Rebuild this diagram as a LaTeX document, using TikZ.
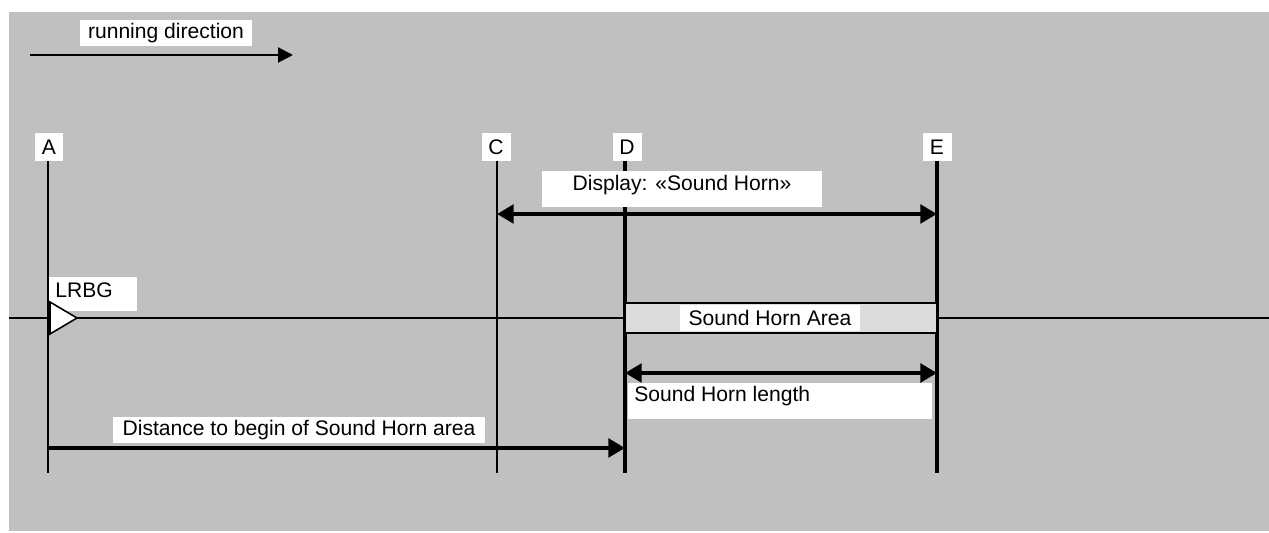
\documentclass[tikz,border=0pt]{standalone}
\usepackage{fontspec}
\setmainfont{Liberation Sans}
\usepackage{xcolor}
\usetikzlibrary{arrows.meta, positioning}
\definecolor{panel}{HTML}{C0C0C0}
\definecolor{zone}{HTML}{DCDCDC}
\tikzstyle{tag} = [rectangle, fill=white, inner sep=0pt, text centered, font=\fontsize{12}{14}\selectfont]
\tikzstyle{letter} = [tag, minimum width=0.58cm, minimum height=0.56cm]
\tikzstyle{rail} = [draw=black, line width=0.6pt]
\tikzstyle{post} = [line width=1.1pt]
\tikzstyle{bigpost} = [line width=2pt]
\tikzstyle{dim} = [line width=2.8pt, -{Triangle[length=9.5pt,width=10.5pt]}]
\tikzstyle{dimboth} = [line width=2.8pt, {Triangle[length=9.5pt,width=10.5pt]}-{Triangle[length=9.5pt,width=10.5pt]}]

\begin{document}
\begin{tikzpicture}[x=0.02cm, y=-0.02cm]

\useasboundingbox (0,0) rectangle (1269,533);
\fill[panel] (9,12) rectangle (1269,531);

% Running direction
\node (run-tag) [tag, minimum width=3.46cm, minimum height=0.52cm] at (166,33) {running direction};
\coordinate (run-start) at (30,55);
\coordinate (run-end) at (293,55);
\draw [line width=1.2pt, -{Triangle[length=8.5pt,width=8.5pt]}] (run-start) -- (run-end);

% Location letters
\node (A-tag) [letter] at (49,147) {A};
\node (C-tag) [letter] at (496,147) {C};
\node (D-tag) [letter] at (627,147) {D};
\node (E-tag) [letter] at (937,147) {E};

\coordinate (A-foot) at (48,473);
\coordinate (C-foot) at (497,473);
\coordinate (D-foot) at (625,473);
\coordinate (E-foot) at (937,473);

% Track
\coordinate (track-w) at (9,318);
\coordinate (track-e) at (1269,318);
\draw [rail] (track-w) -- (track-e);

% Vertical posts
\draw [post] (A-tag.south) ++(-1,0) -- (A-foot);
\draw [post] (C-tag.south) ++(1,0) -- (C-foot);
\draw [bigpost] (D-tag.south) ++(-2,0) -- (D-foot);
\draw [bigpost] (E-tag.south) -- (E-foot);

% Sound horn area
\node (horn-area) [rectangle, draw=black, line width=1pt, fill=zone, minimum width=6.24cm, minimum height=0.6cm] at (781,318) {};
\node (horn-tag) [tag, minimum width=3.62cm, minimum height=0.52cm] at (770,318) {Sound Horn Area};

% LRBG
\node (lrbg-box) [tag, minimum width=1.78cm, minimum height=0.68cm] at (93,294) {};
\node (lrbg-tag) [tag, fill=none, anchor=west] at (55,290) {LRBG};
\draw [fill=white, line width=0.9pt] (50,302) -- (77,318) -- (50,334) -- cycle;

% Display
\node (display-box) [tag, minimum width=5.62cm, minimum height=0.72cm] at (682,189) {};
\node (display-tag) [tag, fill=none] at (682,185) {Display: «Sound Horn»};
\coordinate (display-w) at (497,214);
\coordinate (display-e) at (937,214);
\draw [dimboth] (display-w) -- (display-e);

% Sound horn length
\coordinate (length-w) at (625,373);
\coordinate (length-e) at (937,373);
\draw [dimboth] (length-w) -- (length-e);
\node (length-box) [tag, minimum width=6.1cm, minimum height=0.74cm] at (780,401) {};
\node (length-tag) [tag, fill=none, anchor=west] at (634,396) {Sound Horn length};

% Distance
\node (dist-tag) [tag, minimum width=7.44cm, minimum height=0.52cm] at (299,430) {Distance to begin of Sound Horn area};
\coordinate (dist-w) at (48,448);
\coordinate (dist-e) at (625,448);
\draw [dim] (dist-w) -- (dist-e);

\end{tikzpicture}
\end{document}
